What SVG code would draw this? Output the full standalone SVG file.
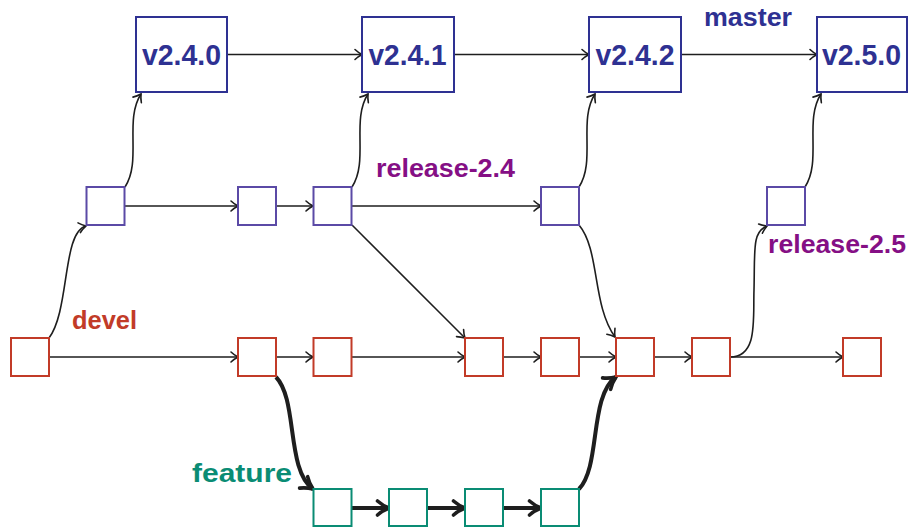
<svg xmlns="http://www.w3.org/2000/svg" width="911" height="527" viewBox="0 0 911 527">
<style>
.bg{fill:#ffffff}
.tag rect{fill:#fff;stroke:#2e3192;stroke-width:2}
.tag text{font-family:"Liberation Sans",Arial,sans-serif;font-weight:bold;font-size:30px;fill:#2e3192;text-anchor:middle}
.rel rect{fill:#fff;stroke:#5b4aa6;stroke-width:2}
.dev rect{fill:#fff;stroke:#c23b28;stroke-width:2}
.fea rect{fill:#fff;stroke:#0a8c74;stroke-width:2}
.lbl{font-family:"Liberation Sans",Arial,sans-serif;font-weight:bold;font-size:26px}
.c path{fill:none;stroke:#1e1e1e;stroke-width:1.6}
.c .thin{marker-end:url(#a)}
.c .thick{stroke-width:4;marker-end:url(#b)}
</style>
<defs>
<marker id="a" markerUnits="userSpaceOnUse" markerWidth="12" markerHeight="14" viewBox="-9 -7 12 14" refX="0" refY="0" orient="auto" overflow="visible">
<path d="M-7,-5 C-4.5,-2.6 -1.3,-0.7 0,0 C-1.3,0.7 -4.5,2.6 -7,5" fill="none" stroke="#1e1e1e" stroke-width="1.6" stroke-linecap="round"/>
</marker>
<marker id="b" markerUnits="userSpaceOnUse" markerWidth="20" markerHeight="20" viewBox="-15 -10 20 20" refX="0" refY="0" orient="auto" overflow="visible">
<path d="M-11.5,-7 C-7.5,-3.4 -2.6,-1 0,0 C-2.6,1 -7.5,3.4 -11.5,7" fill="none" stroke="#1e1e1e" stroke-width="3.6" stroke-linecap="round"/>
</marker>
</defs>
<rect class="bg" x="0" y="0" width="911" height="527"/>

<g id="connectors" class="c">
<path class="thin" d="M227,54.5 L362,54.5"/>
<path class="thin" d="M454,54.5 L589,54.5"/>
<path class="thin" d="M681,54.5 L817,54.5"/>
<path class="thin" d="M125,206 L238,206"/>
<path class="thin" d="M276,206 L313,206"/>
<path class="thin" d="M352,206 L541,206"/>
<path class="thin" d="M125,187 C142,161 124,120 141,94"/>
<path class="thin" d="M352,187 C369,161 351,120 368,94"/>
<path class="thin" d="M579,187 C596,161 578,120 595,94"/>
<path class="thin" d="M805,187 C822,161 804,120 821,94"/>
<path class="thin" d="M49,338 C70,310 62,232 86,226"/>
<path class="thin" d="M49,357 L238,357"/>
<path class="thin" d="M276,357 L313,357"/>
<path class="thin" d="M352,357 L465,357"/>
<path class="thin" d="M503,357 L541,357"/>
<path class="thin" d="M579,357 L616,357"/>
<path class="thin" d="M654,357 L692,357"/>
<path class="thin" d="M730,357 L843,357"/>
<path class="thin" d="M352,225 L465,338"/>
<path class="thin" d="M579,225 C600,250 592,305 615,337"/>
<path class="thin" d="M730,357 C758,357 753,320 754,290 C755,250 752,232 767,226"/>
<path class="thick" d="M276,377 C298,400 286,470 313,489"/>
<path class="thick" d="M352,508 L389,508"/>
<path class="thick" d="M427,508 L465,508"/>
<path class="thick" d="M503,508 L541,508"/>
<path class="thick" d="M579,489 C601,466 589,396 616,377"/>
</g>

<g id="tag-v240" class="tag"><rect x="136" y="17" width="91" height="75"/><text x="181.5" y="65" textLength="79" lengthAdjust="spacingAndGlyphs">v2.4.0</text></g>
<g id="tag-v241" class="tag"><rect x="362" y="17" width="92" height="75"/><text x="407.5" y="65" textLength="78" lengthAdjust="spacingAndGlyphs">v2.4.1</text></g>
<g id="tag-v242" class="tag"><rect x="589" y="17" width="92" height="75"/><text x="635" y="65" textLength="79" lengthAdjust="spacingAndGlyphs">v2.4.2</text></g>
<g id="tag-v250" class="tag"><rect x="817" y="17" width="90" height="75"/><text x="861.5" y="65" textLength="79" lengthAdjust="spacingAndGlyphs">v2.5.0</text></g>

<g id="rel1" class="rel"><rect x="86.5" y="187" width="38" height="38"/></g>
<g id="rel2" class="rel"><rect x="238" y="187" width="38" height="38"/></g>
<g id="rel3" class="rel"><rect x="313.5" y="187" width="38" height="38"/></g>
<g id="rel4" class="rel"><rect x="541" y="187" width="38" height="38"/></g>
<g id="rel5" class="rel"><rect x="767" y="187" width="38" height="38"/></g>

<g id="dev1" class="dev"><rect x="11" y="338" width="38" height="38"/></g>
<g id="dev2" class="dev"><rect x="238" y="338" width="38" height="38"/></g>
<g id="dev3" class="dev"><rect x="313.5" y="338" width="38" height="38"/></g>
<g id="dev4" class="dev"><rect x="465" y="338" width="38" height="38"/></g>
<g id="dev5" class="dev"><rect x="541" y="338" width="38" height="38"/></g>
<g id="dev6" class="dev"><rect x="616" y="338" width="38" height="38"/></g>
<g id="dev7" class="dev"><rect x="692" y="338" width="38" height="38"/></g>
<g id="dev8" class="dev"><rect x="843" y="338" width="38" height="38"/></g>

<g id="fea1" class="fea"><rect x="313.5" y="489" width="38" height="37"/></g>
<g id="fea2" class="fea"><rect x="389" y="489" width="38" height="37"/></g>
<g id="fea3" class="fea"><rect x="465" y="489" width="38" height="37"/></g>
<g id="fea4" class="fea"><rect x="541" y="489" width="38" height="37"/></g>

<g id="labels">
<text class="lbl" x="704" y="26" textLength="88" lengthAdjust="spacingAndGlyphs" fill="#2e3192">master</text>
<text class="lbl" x="376" y="177" textLength="139" lengthAdjust="spacingAndGlyphs" fill="#850f85">release-2.4</text>
<text class="lbl" x="768" y="253" textLength="138" lengthAdjust="spacingAndGlyphs" fill="#850f85">release-2.5</text>
<text class="lbl" x="72" y="329" textLength="65" lengthAdjust="spacingAndGlyphs" fill="#c23b28">devel</text>
<text class="lbl" x="192" y="482" textLength="100" lengthAdjust="spacingAndGlyphs" fill="#0a8c74">feature</text>
</g>
</svg>
